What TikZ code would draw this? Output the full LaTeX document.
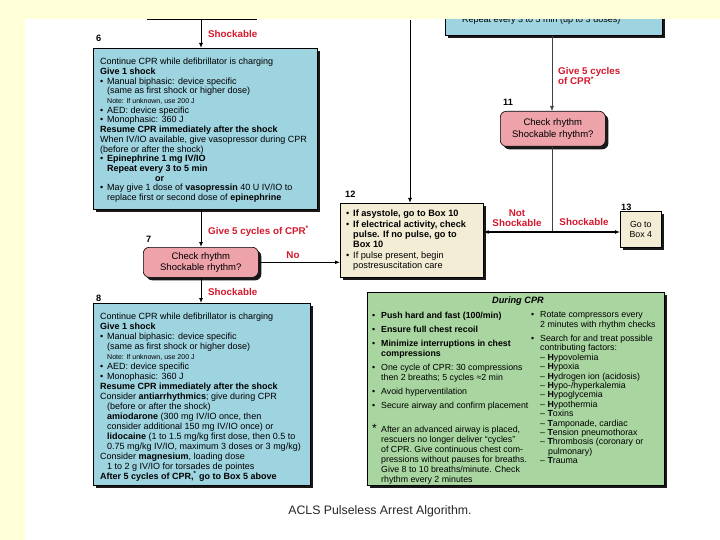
\documentclass[tikz,border=0pt]{standalone}
\usepackage{fontspec}
\setmainfont{Liberation Sans}
\usetikzlibrary{shadows,arrows.meta}
\definecolor{cyanbox}{RGB}{158,211,224}
\definecolor{pinkbox}{RGB}{238,162,170}
\definecolor{beigebox}{RGB}{243,237,214}
\definecolor{greenbox}{RGB}{168,213,160}
\definecolor{creambg}{RGB}{255,255,217}
\definecolor{redlbl}{RGB}{214,24,44}
\newcommand{\bu}{\makebox[7pt][l]{•}}
\newcommand{\ii}{\hspace*{7pt}}
\newcommand{\gbu}{\makebox[9pt][l]{•}}
\newcommand{\gii}{\hspace*{9pt}}
\begin{document}
\begin{tikzpicture}[x=1pt,y=-1pt,
  shd/.style={drop shadow={shadow xshift=3pt,shadow yshift=-3pt,fill=black!90,opacity=1}},
  boxbase/.style={draw=black,line width=0.6pt,anchor=north west,inner sep=0pt,shd},
  cbox/.style={boxbase,fill=cyanbox},
  pbox/.style={boxbase,fill=pinkbox,rounded corners=6pt,align=center,font=\fontsize{9.5}{11.5}\selectfont},
  bbox/.style={boxbase,fill=beigebox},
  gbox/.style={boxbase,fill=greenbox},
  txt/.style={anchor=north west,inner sep=0pt,align=left,font=\fontsize{9}{9.7}\selectfont},
  num/.style={anchor=west,inner sep=0pt,font=\bfseries\fontsize{9.2}{10}\selectfont},
  lbl/.style={inner sep=0pt,text=redlbl,font=\bfseries\fontsize{9.8}{10.5}\selectfont},
  conn/.style={line width=1pt,draw=black},
  thin/.style={line width=0.6pt,draw=black!75},
  arr/.style={-{Latex[length=5pt,width=4pt]}},
]
\useasboundingbox (0,0) rectangle (720,540);
\fill[white] (0,0) rectangle (720,540);

% boxes
\node[cbox,minimum width=217pt,minimum height=65pt] (b10) at (445,-30) {};
\node[anchor=base west,inner sep=0pt,font=\fontsize{9}{10}\selectfont] (t10) at (462,23) {Repeat every 3 to 5 min (up to 3 doses)};
\node[cbox,minimum width=224pt,minimum height=161pt] (b6) at (93,48) {};
\node[pbox,minimum width=115pt,minimum height=30pt] (b7) at (143,247) {Check rhythm\\Shockable rhythm?};
\node[cbox,minimum width=217pt,minimum height=182pt] (b8) at (93,303) {};
\node[pbox,minimum width=105pt,minimum height=35pt] (b11) at (500,111) {Check rhythm\\Shockable rhythm?};
\node[bbox,minimum width=143pt,minimum height=74pt] (b12) at (340,203) {};
\node[bbox,minimum width=41pt,minimum height=36pt,align=center,font=\fontsize{8.8}{10.5}\selectfont] (b13) at (620,211) {Go to\\Box 4};
\node[gbox,minimum width=297pt,minimum height=193pt] (bg) at (367,292) {};

% box texts
\node[txt] (t6) at (100,58) {Continue CPR while defibrillator is charging\\
\textbf{Give 1 shock}\\
\bu Manual biphasic: device specific\\
\ii(same as first shock or higher dose)\\
\ii{\fontsize{7}{9.7}\selectfont Note: If unknown, use 200 J}\\
\bu AED: device specific\\
\bu Monophasic: 360 J\\
\textbf{Resume CPR immediately after the shock}\\
When IV/IO available, give vasopressor during CPR\\
(before or after the shock)\\
\bu\textbf{Epinephrine 1 mg IV/IO}\\
\ii\textbf{Repeat every 3 to 5 min}\\
\hspace*{55pt}\textbf{or}\\
\bu May give 1 dose of \textbf{vasopressin} 40 U IV/IO to\\
\ii replace first or second dose of \textbf{epinephrine}};

\node[txt,font=\fontsize{9}{10}\selectfont] (t8) at (100,312.5) {Continue CPR while defibrillator is charging\\
\textbf{Give 1 shock}\\
\bu Manual biphasic: device specific\\
\ii(same as first shock or higher dose)\\
\ii{\fontsize{7}{10}\selectfont Note: If unknown, use 200 J}\\
\bu AED: device specific\\
\bu Monophasic: 360 J\\
\textbf{Resume CPR immediately after the shock}\\
Consider \textbf{antiarrhythmics}; give during CPR\\
\ii(before or after the shock)\\
\ii\textbf{amiodarone} (300 mg IV/IO once, then\\
\ii consider additional 150 mg IV/IO once) or\\
\ii\textbf{lidocaine} (1 to 1.5 mg/kg first dose, then 0.5 to\\
\ii 0.75 mg/kg IV/IO, maximum 3 doses or 3 mg/kg)\\
Consider \textbf{magnesium}, loading dose\\
\ii 1 to 2 g IV/IO for torsades de pointes\\
\textbf{After 5 cycles of CPR,\textsuperscript{*} go to Box 5 above}};

\node[txt,font=\fontsize{9.2}{10.3}\selectfont] (t12) at (346,210) {\bu\textbf{If asystole, go to Box 10}\\
\bu\textbf{If electrical activity, check}\\
\ii\textbf{pulse. If no pulse, go to}\\
\ii\textbf{Box 10}\\
\bu If pulse present, begin\\
\ii postresuscitation care};

\node[anchor=center,inner sep=0pt,font=\bfseries\itshape\fontsize{9.2}{10}\selectfont] (gh) at (518,301) {During CPR};
\node[txt,font=\fontsize{8.8}{10}\selectfont] (gl) at (372,311.5) {\gbu\textbf{Push hard and fast (100/min)}\\[4pt]
\gbu\textbf{Ensure full chest recoil}\\[4pt]
\gbu\textbf{Minimize interruptions in chest}\\
\gii\textbf{compressions}\\[4pt]
\gbu One cycle of CPR: 30 compressions\\
\gii then 2 breaths; 5 cycles ≈2 min\\[4pt]
\gbu Avoid hyperventilation\\[4pt]
\gbu Secure airway and confirm placement\\[13pt]
\makebox[9pt][l]{\fontsize{12}{10}\selectfont *}After an advanced airway is placed,\\
\gii rescuers no longer deliver “cycles”\\
\gii of CPR. Give continuous chest com-\\
\gii pressions without pauses for breaths.\\
\gii Give 8 to 10 breaths/minute. Check\\
\gii rhythm every 2 minutes};
\node[txt,font=\fontsize{8.8}{9.4}\selectfont] (gr) at (531,311.5) {\gbu Rotate compressors every\\
\gii 2 minutes with rhythm checks\\[5pt]
\gbu Search for and treat possible\\
\gii contributing factors:\\
\gii – \textbf{H}ypovolemia\\
\gii – \textbf{H}ypoxia\\
\gii – \textbf{H}ydrogen ion (acidosis)\\
\gii – \textbf{H}ypo-/hyperkalemia\\
\gii – \textbf{H}ypoglycemia\\
\gii – \textbf{H}ypothermia\\
\gii – \textbf{T}oxins\\
\gii – \textbf{T}amponade, cardiac\\
\gii – \textbf{T}ension pneumothorax\\
\gii – \textbf{T}hrombosis (coronary or\\
\gii\hspace*{8pt}pulmonary)\\
\gii – \textbf{T}rauma};

% numbers
\node[num] (n6) at (96,38) {6};
\node[num] (n7) at (146,239) {7};
\node[num] (n8) at (96,298) {8};
\node[num] (n11) at (503,102) {11};
\node[num] (n12) at (345,194) {12};
\node[num] (n13) at (621,207) {13};

% connectors
\coordinate (tl) at (147,20);
\coordinate (tr) at (257,20);
\coordinate (sp) at (201,20);
\coordinate (top12) at (410,20);
\coordinate (sp2) at (552,20);
\coordinate (jn) at (552,232);
\draw[conn] (tl) -- (tr);
\draw[conn,arr] (sp) -- (sp |- b6.north);
\draw[conn,arr] (sp |- b6.south) -- (sp |- b7.north);
\draw[conn,arr] (sp |- b7.south) -- (sp |- b8.north);
\draw[conn,arr] (b7.east) -- (b7.east -| b12.west);
\draw[conn,arr] (top12) -- (top12 |- b12.north);
\draw[thin,arr] (sp2 |- b10.south) -- (sp2 |- b11.north);
\draw[thin] (sp2 |- b11.south) -- (jn);
\draw[conn,arr] (jn) -- (jn -| b12.east);
\draw[conn,arr] (jn) -- (jn -| b13.west);

% red labels
\node[lbl,anchor=west] (l1) at (208,34) {Shockable};
\node[lbl,anchor=west] (l2) at (208,231) {Give 5 cycles of CPR\textsuperscript{*}};
\node[lbl] (l3) at (293,255) {No};
\node[lbl,anchor=west] (l4) at (208,292) {Shockable};
\node[lbl,anchor=north west,align=left] (l5) at (558,67) {Give 5 cycles\\of CPR\textsuperscript{*}};
\node[lbl,align=center] (l6) at (517,218) {Not\\Shockable};
\node[lbl] (l7) at (584,222) {Shockable};

% caption
\node[inner sep=0pt,font=\fontsize{12.3}{14}\selectfont,text=black!85] (cap) at (380,511) {ACLS Pulseless Arrest Algorithm.};

% cream frame
\fill[creambg] (0,0) rectangle (720,19);
\fill[creambg] (0,0) rectangle (25,540);
\end{tikzpicture}
\end{document}
